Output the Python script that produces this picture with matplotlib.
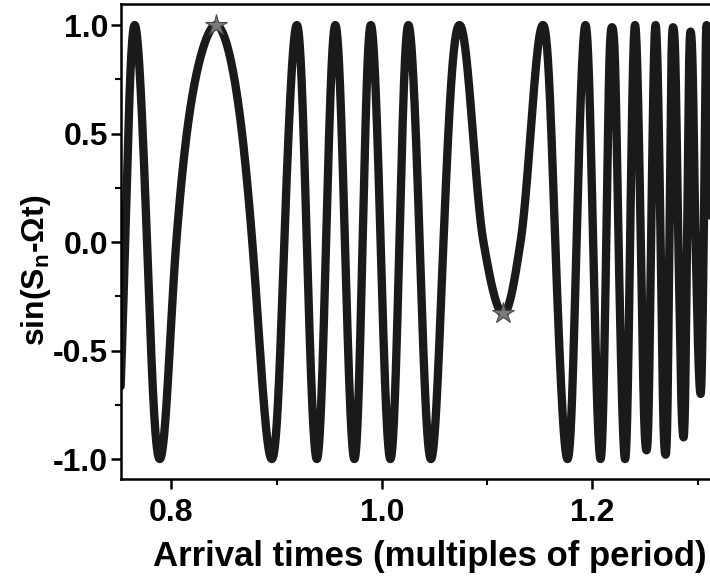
import matplotlib
matplotlib.use("Agg")
import matplotlib.pyplot as plt
from matplotlib.ticker import MultipleLocator
import numpy as np

plt.rcParams['font.family'] = ['Liberation Sans', 'DejaVu Sans']
plt.rcParams['font.weight'] = 'bold'
plt.rcParams['mathtext.fontset'] = 'custom'
plt.rcParams['mathtext.rm'] = 'Liberation Sans:bold'
plt.rcParams['mathtext.it'] = 'Liberation Sans:bold'
plt.rcParams['mathtext.bf'] = 'Liberation Sans:bold'

# turning points of the curve (time, value)
extrema_t = [0.747, 0.7653, 0.7891, 0.8425, 0.8955, 0.9193, 0.9383, 0.9559,
             0.9740, 0.9896, 1.0082, 1.0253, 1.0467, 1.0738, 1.1156, 1.1531,
             1.1764, 1.1935, 1.2078, 1.2187, 1.2311, 1.2406, 1.2515, 1.2601,
             1.2696, 1.2767, 1.2867, 1.2933, 1.3029, 1.3086, 1.3180]
extrema_y = [-1.0, 1.0, -1.0, 1.0, -1.0, 1.0, -1.0, 1.0,
             -1.0, 1.0, -1.0, 1.0, -1.0, 1.0, -0.33, 1.0,
             -1.0, 1.0, -1.0, 0.99, -1.0, 1.0, -0.96, 1.0,
             -0.98, 0.99, -0.90, 0.97, -0.70, 1.0, -0.60]
# zero crossings between consecutive turning points
crossing_t = [0.7562, 0.7770, 0.8048, 0.8770, 0.9074, 0.9288, 0.9471, 0.9650,
              0.9818, 0.9989, 1.0168, 1.0360, 1.0586, 1.0966, 1.1318, 1.1648,
              1.1850, 1.2007, 1.2133, 1.2249, 1.2359, 1.2461, 1.2558, 1.2649,
              1.2732, 1.2817, 1.2900, 1.2981, 1.3058, 1.3133]

# marked points
star_t = [0.8425, 1.1156]
star_y = [1.0, -0.325]

xticks = [0.8, 1.0, 1.2]
yticks = [-1.0, -0.5, 0.0, 0.5, 1.0]


def pchip(xk, yk, x):
    # monotone cubic (Fritsch-Carlson)
    xk = np.asarray(xk, float)
    yk = np.asarray(yk, float)
    h = np.diff(xk)
    d = np.diff(yk) / h
    m = np.zeros_like(yk)
    m[0], m[-1] = d[0], d[-1]
    for k in range(1, len(xk) - 1):
        if d[k - 1] * d[k] > 0:
            w1 = 2 * h[k] + h[k - 1]
            w2 = h[k] + 2 * h[k - 1]
            m[k] = (w1 + w2) / (w1 / d[k - 1] + w2 / d[k])
    i = np.clip(np.searchsorted(xk, x) - 1, 0, len(h) - 1)
    s = (x - xk[i]) / h[i]
    h00 = 2 * s**3 - 3 * s**2 + 1
    h10 = s**3 - 2 * s**2 + s
    h01 = -2 * s**3 + 3 * s**2
    h11 = s**3 - s**2
    return h00 * yk[i] + h10 * h[i] * m[i] + h01 * yk[i + 1] + h11 * h[i] * m[i + 1]


# knots: turning points and zero crossings, then the phase behind sin()
knot_t, knot_y = [], []
for i in range(len(extrema_t)):
    knot_t.append(extrema_t[i])
    knot_y.append(extrema_y[i])
    if i < len(crossing_t):
        knot_t.append(crossing_t[i])
        knot_y.append(0.0)

phase = [np.arcsin(knot_y[0])]
direction = 1
for k in range(1, len(knot_y)):
    a, b = knot_y[k - 1], knot_y[k]
    step = np.arcsin(min(1.0, abs(a if a != 0 else b)))
    phase.append(phase[-1] + direction * step)
    if b != 0 and abs(b) < 0.999:
        direction = -direction

t = np.linspace(knot_t[0], knot_t[-1], 6000)
y = np.sin(pchip(knot_t, phase, t))

fig = plt.figure(figsize=(7.1, 5.83), dpi=100)
ax = fig.add_axes([0.170, 0.1784, 0.857, 0.8147])

ax.plot(t, y, color='#1a1a1a', lw=6.0, solid_joinstyle='round',
        solid_capstyle='round')
ax.plot(star_t, star_y, linestyle='none', marker='*', ms=16,
        markerfacecolor='#7a7a7a', markeredgecolor='#4a4a4a', mew=0.8)

ax.set_xlim(0.752, 1.330)
ax.set_ylim(-1.092, 1.097)

ax.set_xticks(xticks)
ax.set_yticks(yticks)
ax.xaxis.set_minor_locator(MultipleLocator(0.1))
ax.yaxis.set_minor_locator(MultipleLocator(0.25))
ax.set_xticklabels(['%.1f' % v for v in xticks])
ax.set_yticklabels(['%.1f' % v for v in yticks])

ax.tick_params(which='major', direction='out', length=7, width=1.8,
               labelsize=23)
ax.tick_params(axis='x', which='major', pad=7)
ax.tick_params(axis='y', which='major', pad=2)
ax.tick_params(which='minor', direction='out', length=4.5, width=1.5)
for sp in ax.spines.values():
    sp.set_linewidth(1.8)

ax.set_xlabel('Arrival times (multiples of period)', fontsize=25,
              fontweight='bold')
ax.set_ylabel('sin(S$_{\\rm n}$-\u03a9t)', fontsize=23, fontweight='bold')
ax.xaxis.set_label_coords(0.508, -0.128)
ax.yaxis.set_label_coords(-0.112, 0.44)

fig.savefig('out.png', dpi=100)
